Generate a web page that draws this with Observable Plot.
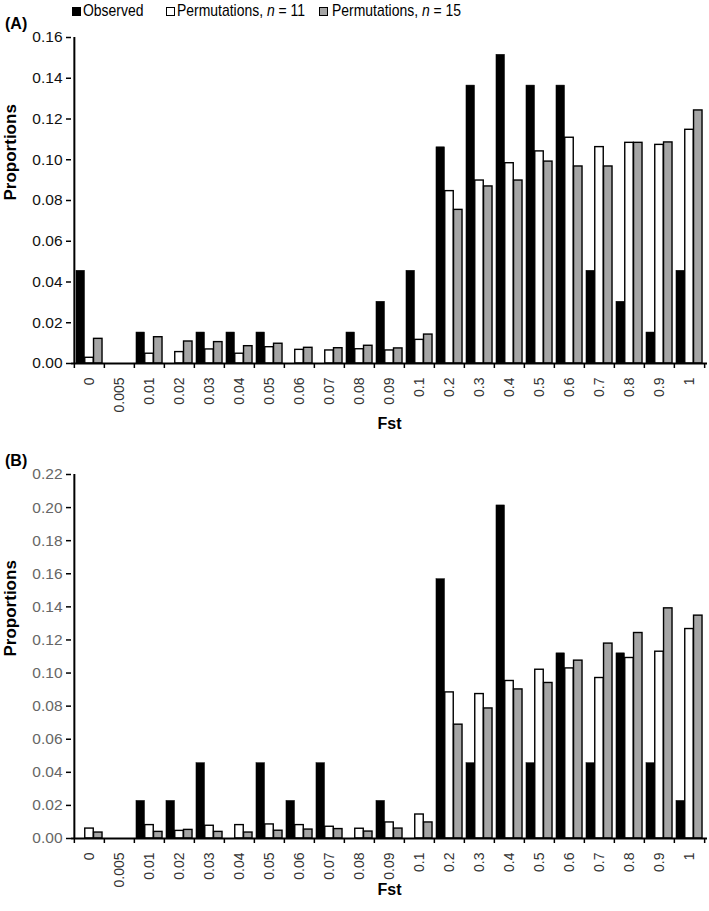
<!DOCTYPE html>
<html><head><meta charset="utf-8">
<script src="https://cdn.jsdelivr.net/npm/d3@7"></script>
<script src="https://cdn.jsdelivr.net/npm/@observablehq/plot@0.6"></script>
<style>
body{margin:0;background:#fff;}
#wrap{position:relative;width:709px;height:911px;font-family:"Liberation Sans",Arial,sans-serif;color:#000;overflow:hidden;}
.panel{position:absolute;left:0;}
.plab{position:absolute;left:5px;font-weight:bold;font-size:16px;line-height:18px;z-index:2;}
.leg{position:absolute;top:0;font-family:"Liberation Sans",Arial,sans-serif;font-size:17px;line-height:22px;white-space:nowrap;z-index:2;transform:scaleX(0.82);transform-origin:0 0;}
.sw{position:absolute;top:7px;width:7px;height:7px;border:1px solid #000;z-index:2;}
svg [aria-label="y-axis tick label"]{font-size:15.5px;}
svg [aria-label="x-axis tick label"]{font-size:14px;}
</style></head>
<body><div id="wrap">
  <div id="pa" class="panel" style="top:0"></div>
  <div id="pb" class="panel" style="top:445px"></div>
  <div class="sw" style="left:72px;background:#000"></div>
  <div class="leg" style="left:83px">Observed</div>
  <div class="sw" style="left:166px;background:#fff"></div>
  <div class="leg" style="left:177px">Permutations, <i>n</i> = 11</div>
  <div class="sw" style="left:319px;background:#a5a5a5"></div>
  <div class="leg" style="left:332px">Permutations, <i>n</i> = 15</div>
  <div class="plab" style="top:15px">(A)</div>
  <div class="plab" style="top:452px">(B)</div>
</div>
<script>
const categories = ["0","0.005","0.01","0.02","0.03","0.04","0.05","0.06","0.07","0.08","0.09","0.1","0.2","0.3","0.4","0.5","0.6","0.7","0.8","0.9","1"];
const seriesNames = ["Observed", "Permutations, n = 11", "Permutations, n = 15"];

const obsA = [0.0455,0,0.0152,0,0.0152,0.0152,0.0152,0,0,0.0152,0.0303,0.0455,0.1061,0.1364,0.1515,0.1364,0.1364,0.0455,0.0303,0.0152,0.0455];
const n11A = [0.0028,0,0.0048,0.0056,0.0069,0.0048,0.0080,0.0067,0.0064,0.0070,0.0064,0.0116,0.0846,0.0898,0.0983,0.1041,0.1108,0.1062,0.1083,0.1073,0.1147];
const n15A = [0.0121,0,0.0129,0.0108,0.0105,0.0085,0.0097,0.0077,0.0075,0.0087,0.0074,0.0142,0.0754,0.0869,0.0898,0.0991,0.0967,0.0967,0.1083,0.1085,0.1242];

const obsB = [0,0,0.0227,0.0227,0.0455,0,0.0455,0.0227,0.0455,0,0.0227,0,0.1567,0.0455,0.2013,0.0455,0.1119,0.0455,0.1119,0.0455,0.0227];
const n11B = [0.0060,0,0.0081,0.0046,0.0077,0.0081,0.0085,0.0081,0.0071,0.0059,0.0097,0.0145,0.0883,0.0873,0.0952,0.1020,0.1028,0.0970,0.1091,0.1129,0.1266];
const n15B = [0.0036,0,0.0040,0.0052,0.0040,0.0036,0.0047,0.0054,0.0057,0.0042,0.0060,0.0097,0.0688,0.0786,0.0901,0.0940,0.1075,0.1178,0.1242,0.1391,0.1347];

const yTicksA = [0,0.02,0.04,0.06,0.08,0.10,0.12,0.14,0.16];
const yTicksB = [0,0.02,0.04,0.06,0.08,0.10,0.12,0.14,0.16,0.18,0.20,0.22];

const fills = ["#000000", "#ffffff", "#a5a5a5"];

function panel({obs, n11, n15, yTicks, height, marginTop, marginBottom, yColor}) {
  const W = 709, ML = 71, MR = 2;
  const bw = (W - ML - MR) / categories.length;
  const group = bw / 1.15;
  const pad = (bw - group) / 2;
  const w = group / 3;
  const series = [obs, n11, n15];
  const marks = [];
  series.forEach((vals, i) => {
    const data = categories.map((c, j) => ({c, v: vals[j]})).filter(d => d.v > 0);
    marks.push(Plot.barY(data, {
      x: "c", y: "v",
      fill: fills[i], stroke: "#000", strokeWidth: i === 0 ? 0.5 : 1.4,
      insetLeft: pad + i * w, insetRight: pad + (2 - i) * w
    }));
  });
  marks.push(
    Plot.axisY({ticks: yTicks, tickFormat: d => d.toFixed(2), tickSize: 5, tickPadding: 4,
      fill: yColor, stroke: "#000", strokeWidth: 1.5, label: null}),
    Plot.axisX({tickRotate: -90, tickSize: 0, tickPadding: 14, fill: "#333", label: null}),
    Plot.axisX({tickSize: 5, tickFormat: () => "", dx: -bw / 2, stroke: "#000", strokeWidth: 1.5, label: null}),
    Plot.axisX({ticks: [categories[categories.length - 1]], tickSize: 5, tickFormat: () => "", dx: bw / 2, stroke: "#000", strokeWidth: 1.5, label: null}),
    Plot.ruleY([0], {stroke: "#000", strokeWidth: 2}),
    Plot.ruleX([categories[0]], {dx: -bw / 2, stroke: "#000", strokeWidth: 2}),
    Plot.text(["Fst"], {frameAnchor: "bottom", dy: marginBottom - 17, fontWeight: "bold", fontSize: 16, fill: "#000"}),
    Plot.text(["Proportions"], {frameAnchor: "left", dx: -61, rotate: -90, fontWeight: "bold", fontSize: 17, fill: "#000"})
  );
  return Plot.plot({
    width: W, height, marginLeft: ML, marginRight: MR, marginTop, marginBottom,
    style: {fontFamily: "'Liberation Sans', Arial, sans-serif", fontSize: "15px", overflow: "visible", background: "transparent"},
    x: {type: "band", domain: categories, padding: 0},
    y: {domain: [0, yTicks[yTicks.length - 1]]},
    marks
  });
}

document.getElementById("pa").appendChild(panel({obs: obsA, n11: n11A, n15: n15A, yTicks: yTicksA,
  height: 445, marginTop: 37, marginBottom: 82, yColor: "#111"}));
document.getElementById("pb").appendChild(panel({obs: obsB, n11: n11B, n15: n15B, yTicks: yTicksB,
  height: 466, marginTop: 29, marginBottom: 73, yColor: "#666"}));
</script>
</body></html>
